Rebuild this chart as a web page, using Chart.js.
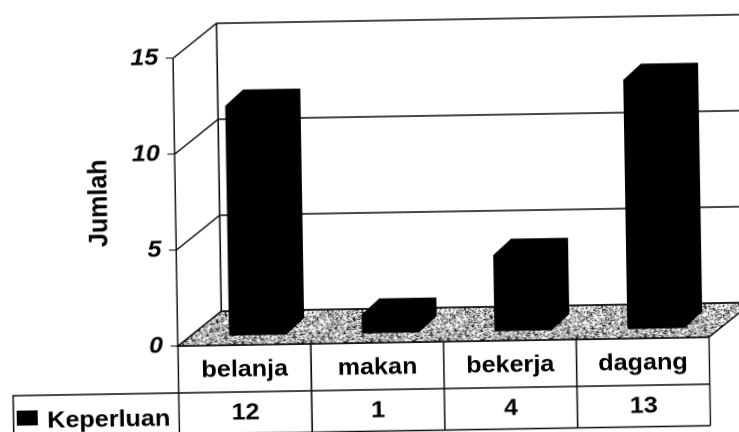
<!DOCTYPE html>
<html>
<head>
<meta charset="utf-8">
<script src="https://cdn.jsdelivr.net/npm/chart.js@4"></script>
<style>
html,body{margin:0;padding:0;background:#fff;overflow:hidden;width:739px;height:432px}
#wrap{position:absolute;left:0;top:0;width:740px;height:500px;transform-origin:186.36px 346px;transform:translateX(-8.36px) rotate(-0.95deg) scale(1.07,1)}
</style>
</head>
<body>
<div id="wrap"><canvas id="c" width="740" height="500"></canvas></div>
<script>
const categories = ['belanja', 'makan', 'bekerja', 'dagang'];
const seriesName = 'Keperluan';
const values = [12, 1, 4, 13];
const yTicks = [0, 5, 10, 15];
const yTitle = 'Jumlah';

const INK = '#0a0a0a';
const FONT = '"Liberation Sans", Arial, sans-serif';
const TEXT_SIZE = 23.5;
const wallDx = 41, wallDy = 34;
const barDx = 12.6, barDy = 9, depthDx = 16.8, depthDy = 16;
const rowBottoms = [393, 434.5];

function noisePattern(ctx) {
  const n = 64, off = document.createElement('canvas');
  off.width = off.height = n;
  const o = off.getContext('2d');
  o.fillStyle = '#f4f4f4'; o.fillRect(0, 0, n, n);
  let s = 12345;
  for (let y = 0; y < n; y++) for (let x = 0; x < n; x++) {
    s = (s * 1103 + 12347) % 65536;
    if (s % 100 < 36) { o.fillStyle = s % 3 ? '#111' : '#666'; o.fillRect(x, y, 1, 1); }
  }
  return ctx.createPattern(off, 'repeat');
}

const depthPlugin = {
  id: 'depth',
  beforeDraw(chart) {
    const { ctx, chartArea: a, scales: { y } } = chart;
    ctx.save();
    ctx.fillStyle = noisePattern(ctx);
    ctx.strokeStyle = INK; ctx.lineWidth = 1.4;
    ctx.beginPath();
    ctx.moveTo(a.left, a.bottom);
    ctx.lineTo(a.right, a.bottom);
    ctx.lineTo(a.right + wallDx, a.bottom - wallDy);
    ctx.lineTo(a.left + wallDx, a.bottom - wallDy);
    ctx.closePath(); ctx.fill(); ctx.stroke();
    yTicks.forEach(v => {
      const p = y.getPixelForValue(v);
      ctx.beginPath();
      ctx.moveTo(a.left, p);
      ctx.lineTo(a.left + wallDx, p - wallDy);
      ctx.lineTo(a.right + wallDx, p - wallDy);
      ctx.stroke();
    });
    ctx.beginPath();
    ctx.moveTo(a.left + wallDx, a.top - wallDy);
    ctx.lineTo(a.left + wallDx, a.bottom - wallDy);
    ctx.stroke();
    ctx.restore();
  },
  beforeDatasetsDraw(chart) {
    const ctx = chart.ctx;
    ctx.save();
    ctx.translate(barDx, -barDy);
    ctx.fillStyle = '#000';
    chart.getDatasetMeta(0).data.forEach(b => {
      const l = b.x - b.width / 2, r = b.x + b.width / 2;
      ctx.beginPath();
      ctx.moveTo(l, b.y);
      ctx.lineTo(l + depthDx, b.y - depthDy);
      ctx.lineTo(r + depthDx, b.y - depthDy);
      ctx.lineTo(r + depthDx, b.base - depthDy);
      ctx.lineTo(r, b.base);
      ctx.lineTo(l, b.base);
      ctx.closePath();
      ctx.fill();
    });
  },
  afterDatasetsDraw(chart) {
    chart.ctx.restore();
  },
  afterDraw(chart) {
    const { ctx, chartArea: a, scales: { x } } = chart;
    ctx.save();
    ctx.strokeStyle = INK; ctx.lineWidth = 1.4; ctx.fillStyle = '#000';
    const step = (a.right - a.left) / categories.length;
    for (let i = 0; i <= categories.length; i++) {
      const px = a.left + i * step;
      ctx.beginPath(); ctx.moveTo(px, a.bottom); ctx.lineTo(px, rowBottoms[1]); ctx.stroke();
    }
    rowBottoms.forEach(r => {
      ctx.beginPath(); ctx.moveTo(a.left, r); ctx.lineTo(a.right, r); ctx.stroke();
    });
    const cellLeft = 31.5, cellTop = rowBottoms[0];
    ctx.beginPath();
    ctx.moveTo(cellLeft, rowBottoms[1] + 8);
    ctx.lineTo(cellLeft, cellTop);
    ctx.lineTo(a.left, cellTop);
    ctx.stroke();
    ctx.fillRect(34.5, 408, 19.5, 15);
    ctx.font = 'bold ' + TEXT_SIZE + 'px ' + FONT;
    ctx.textBaseline = 'alphabetic';
    ctx.textAlign = 'left';
    ctx.fillText(seriesName, 63, 425.7);
    ctx.textBaseline = 'middle';
    ctx.textAlign = 'center';
    values.forEach((v, i) => ctx.fillText(String(v), x.getPixelForValue(i), 414));
    ctx.restore();
  }
};

new Chart(document.getElementById('c'), {
  type: 'bar',
  data: {
    labels: categories,
    datasets: [{
      label: seriesName,
      data: values,
      backgroundColor: '#000',
      borderWidth: 0,
      barPercentage: 0.43,
      categoryPercentage: 1,
      clip: false
    }]
  },
  options: {
    responsive: false,
    animation: false,
    devicePixelRatio: 2,
    layout: { padding: { left: 0, top: 58, right: 57.4, bottom: 0 } },
    plugins: { legend: { display: false }, tooltip: { enabled: false } },
    scales: {
      x: {
        afterFit(s) { s.height = 154; },
        grid: { drawOnChartArea: false, drawTicks: false },
        border: { display: true, color: INK, width: 1.4 },
        ticks: { color: '#000', padding: 11, maxRotation: 0, font: { family: FONT, size: TEXT_SIZE, weight: 'bold' } }
      },
      y: {
        min: 0, max: 15,
        afterFit(s) { s.width = 186.36; },
        afterBuildTicks(s) { s.ticks = yTicks.map(v => ({ value: v })); },
        title: { display: true, text: yTitle, color: '#000', padding: { top: 100, bottom: 0 }, font: { family: FONT, size: 25, weight: 'bold' } },
        grid: { drawOnChartArea: false, tickLength: 7, color: INK },
        border: { display: true, color: INK, width: 1.4 },
        ticks: { color: '#000', padding: 7, font: { family: FONT, size: TEXT_SIZE, weight: 'bold', style: 'italic' } }
      }
    }
  },
  plugins: [depthPlugin]
});
</script>
</body>
</html>
